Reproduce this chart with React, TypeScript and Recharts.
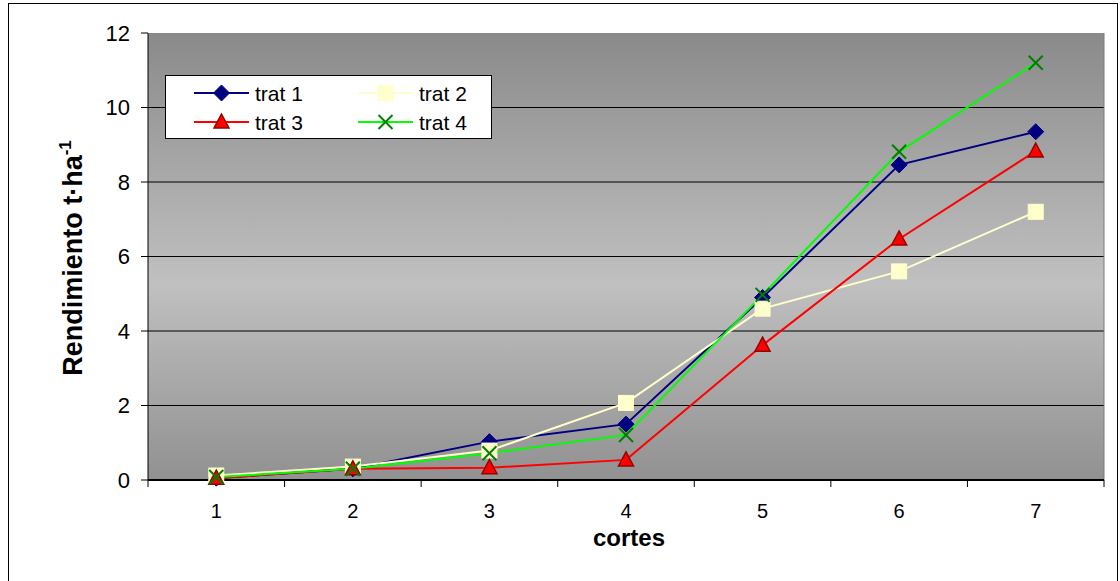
import React from 'react';
import { LineChart, Line, XAxis, YAxis, CartesianGrid, ReferenceLine, Legend } from 'recharts';

const cortes = [1, 2, 3, 4, 5, 6, 7];
const trat1 = [0.05, 0.3, 1.03, 1.5, 4.9, 8.46, 9.35];
const trat2 = [0.12, 0.36, 0.79, 2.07, 4.6, 5.6, 7.2];
const trat3 = [0.05, 0.3, 0.33, 0.54, 3.62, 6.47, 8.83];
const trat4 = [0.08, 0.3, 0.72, 1.21, 4.97, 8.81, 11.2];
const yTicks = [0, 2, 4, 6, 8, 10, 12];
const gridValues = [2, 4, 6, 8, 10];
const xBoundaries = [0.5, 1.5, 2.5, 3.5, 4.5, 5.5, 6.5, 7.5];
const seriesNames = ['trat 1', 'trat 2', 'trat 3', 'trat 4'];

const FONT = '"Liberation Sans", Arial, sans-serif';

const data = cortes.map((c, i) => ({
  corte: c,
  t1: trat1[i],
  t2: trat2[i],
  t3: trat3[i],
  t4: trat4[i],
}));

const Diamond = ({ cx, cy }: any) =>
  cx == null ? null : (
    <path d={`M${cx},${cy - 8} L${cx + 8},${cy} L${cx},${cy + 8} L${cx - 8},${cy} Z`} fill="#000080" stroke="#000080" strokeWidth={1} />
  );
const Square = ({ cx, cy }: any) =>
  cx == null ? null : <rect x={cx - 7.5} y={cy - 7.5} width={15} height={15} fill="#FFFFCC" stroke="#FFFFCC" />;
const Triangle = ({ cx, cy }: any) =>
  cx == null ? null : (
    <path d={`M${cx},${cy - 8} L${cx + 7.5},${cy + 6} L${cx - 7.5},${cy + 6} Z`} fill="#FF0000" stroke="#990000" strokeWidth={1.5} />
  );
const Cross = ({ cx, cy }: any) =>
  cx == null ? null : (
    <g stroke="#008000" strokeWidth={2}>
      <line x1={cx - 7} y1={cy - 7} x2={cx + 7} y2={cy + 7} />
      <line x1={cx - 7} y1={cy + 7} x2={cx + 7} y2={cy - 7} />
    </g>
  );

const series = [
  { key: 't1', name: seriesNames[0], color: '#000080', Dot: Diamond },
  { key: 't2', name: seriesNames[1], color: '#FFFFCC', Dot: Square },
  { key: 't3', name: seriesNames[2], color: '#FF0000', Dot: Triangle },
  { key: 't4', name: seriesNames[3], color: '#00FF00', Dot: Cross },
];

const XTick = ({ x, y, payload }: any) => {
  const v = payload.value;
  if (Number.isInteger(v)) {
    return (
      <text x={x} y={y + 38} textAnchor="middle" fontSize={20} fontFamily={FONT} fill="#000">
        {v}
      </text>
    );
  }
  return <line x1={x} y1={y} x2={x} y2={y + 7} stroke="#000" strokeWidth={1} />;
};

const LegendContent = () => {
  const cols = [0, 164];
  const rows = [17, 46];
  return (
    <div style={{ width: 327, height: 64, background: '#fff', border: '1px solid #000', boxSizing: 'border-box' }}>
      <svg width={325} height={62}>
        {series.map((s, i) => {
          const lx = 28 + cols[i % 2];
          const ly = rows[Math.floor(i / 2)];
          const D = s.Dot;
          return (
            <g key={s.key}>
              <line x1={lx} y1={ly} x2={lx + 55} y2={ly} stroke={s.color} strokeWidth={2} />
              <D cx={lx + 27.5} cy={ly} />
              <text x={lx + 61} y={ly + 8} fontSize={21} fontFamily={FONT} fill="#000">
                {s.name}
              </text>
            </g>
          );
        })}
      </svg>
    </div>
  );
};

const YLabel = () => (
  <text
    x={82}
    y={258}
    transform="rotate(-90, 82, 258)"
    textAnchor="middle"
    fontSize={27}
    fontWeight="bold"
    fontFamily={FONT}
    fill="#000"
  >
    Rendimiento t·ha
    <tspan fontSize={17} dy={-11}>-1</tspan>
  </text>
);

const XLabel = () => (
  <text x={629} y={546} textAnchor="middle" fontSize={24} fontWeight="bold" fontFamily={FONT} fill="#000">
    cortes
  </text>
);

export default function App() {
  return (
    <div style={{ position: 'absolute', left: 0, top: 0, width: 1120, height: 581, background: '#fff' }}>
      <svg width={0} height={0} style={{ position: 'absolute' }}>
        <defs>
          <linearGradient id="plotBg" x1="0" y1="0" x2="0" y2="1">
            <stop offset="0" stopColor="#8a8a8a" />
            <stop offset="0.56" stopColor="#c0c0c0" />
            <stop offset="1" stopColor="#919191" />
          </linearGradient>
        </defs>
      </svg>
      <div
        style={{
          position: 'absolute',
          left: 8,
          top: 3,
          width: 1110,
          height: 585,
          border: '1px solid #000',
          boxSizing: 'border-box',
          pointerEvents: 'none',
        }}
      />
      <LineChart width={1120} height={581} data={data} margin={{ top: 33, right: 16, bottom: 0, left: 0 }}>
        <CartesianGrid horizontal={false} vertical={false} fill="url(#plotBg)" fillOpacity={1} stroke="none" />
        {gridValues.map((g) => (
          <ReferenceLine key={g} y={g} stroke="#000" strokeWidth={1} />
        ))}
        <ReferenceLine x={7.5} stroke="#7a7a7a" strokeWidth={1} />
        <XAxis
          dataKey="corte"
          type="number"
          domain={[0.5, 7.5]}
          ticks={xBoundaries.concat(cortes)}
          interval={0}
          tickLine={false}
          tickSize={0}
          tickMargin={0}
          tick={<XTick />}
          axisLine={{ stroke: '#000', strokeWidth: 2 }}
          height={101}
          label={<XLabel />}
        />
        <YAxis
          type="number"
          domain={[0, 12]}
          ticks={yTicks}
          interval={0}
          width={148}
          tickSize={7}
          tickMargin={11}
          tickLine={{ stroke: '#000' }}
          axisLine={{ stroke: '#000' }}
          tick={{ fontSize: 22, fontFamily: FONT, fill: '#000' }}
          label={<YLabel />}
        />
        <Legend
          layout="horizontal"
          verticalAlign="middle"
          align="center"
          content={<LegendContent />}
          wrapperStyle={{ left: 165, top: 75, width: 327, height: 64 }}
        />
        {series.map((s) => (
          <Line
            key={s.key}
            dataKey={s.key}
            name={s.name}
            stroke={s.color}
            strokeWidth={2}
            dot={<s.Dot />}
            activeDot={false}
            isAnimationActive={false}
          />
        ))}
      </LineChart>
    </div>
  );
}
